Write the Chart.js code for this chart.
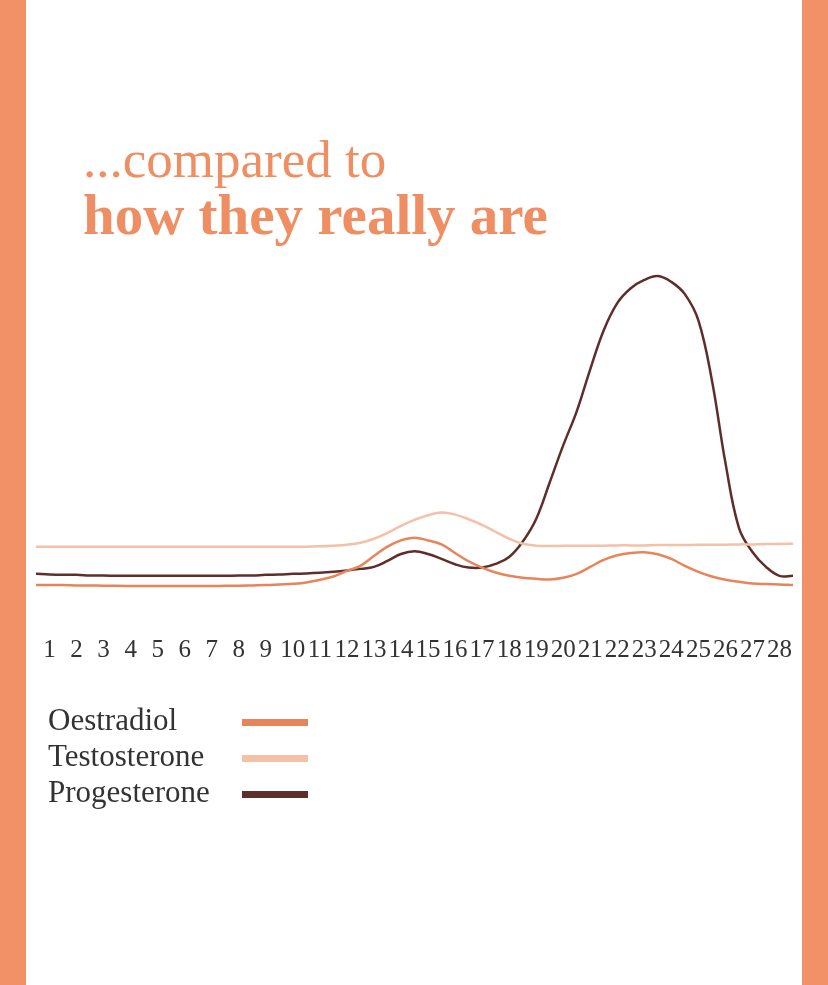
<!DOCTYPE html>
<html>
<head>
<meta charset="utf-8">
<script src="https://cdn.jsdelivr.net/npm/chart.js@4.4.1/dist/chart.umd.min.js"></script>
<style>
  html, body { margin: 0; padding: 0; background: #ffffff; }
  #page { position: relative; width: 828px; height: 985px; overflow: hidden; background: #ffffff; }
  .bar { position: absolute; top: 0; width: 26px; height: 985px; background: #F29068; }
  #chart { position: absolute; left: 0; top: 0; }
  .t1 { position: absolute; left: 83px; top: 133px; font-family: "Liberation Serif", serif; font-size: 53px; line-height: 53px; color: #EF8E63; white-space: nowrap; }
  .t2 { position: absolute; left: 83px; top: 186px; font-family: "Liberation Serif", serif; font-weight: bold; font-size: 57px; line-height: 57px; color: #EF8E63; white-space: nowrap; }
  #legend { position: absolute; left: 48px; top: 701.5px; }
  .row { display: flex; align-items: flex-start; height: 36px; }
  .lbl { width: 194px; font-family: "Liberation Serif", serif; font-size: 31px; line-height: 36px; color: #333333; white-space: nowrap; }
  .sw { width: 66px; height: 7px; margin-top: 17.5px; }
</style>
</head>
<body>
<div id="page">
  <canvas id="chart" width="828" height="985"></canvas>
  <div class="bar" style="left:0"></div>
  <div class="bar" style="left:802px"></div>
  <div class="t1">...compared to</div>
  <div class="t2">how they really are</div>
  <div id="legend"></div>
</div>
<script>
// x positions (cycle day) of the sampled points
const days = [0.5, 1, 1.5, 2, 2.5, 3, 3.5, 4, 4.5, 5, 5.5, 6, 6.5, 7, 7.5, 8, 8.5, 9, 9.5, 10,
  10.5, 11, 11.5, 12, 12.5, 13, 13.5, 14, 14.5, 15, 15.5, 16, 16.5, 17, 17.5, 18, 18.5, 19, 19.5, 20,
  20.5, 21, 21.5, 22, 22.5, 23, 23.5, 24, 24.5, 25, 25.5, 26, 26.5, 27, 27.5, 28, 28.5];

// tick labels
const dayLabels = ['1','2','3','4','5','6','7','8','9','10','11','12','13','14',
  '15','16','17','18','19','20','21','22','23','24','25','26','27','28'];

const seriesNames = ['Oestradiol', 'Testosterone', 'Progesterone'];

// relative hormone levels (arbitrary units)
const oestradiol = [4.2, 4.2, 4.2, 4.1, 4.1, 4.0, 4.0, 3.9, 3.9, 3.9, 3.9, 3.9, 3.9, 3.9, 4.0, 4.0, 4.1, 4.2, 4.4, 4.6,
  5.0, 5.8, 6.8, 8.5, 10.0, 13.0, 15.8, 17.7, 18.5, 17.7, 16.5, 13.9, 11.4, 9.5, 8.0, 7.0, 6.4, 6.1, 5.9, 6.4,
  7.6, 9.7, 11.8, 13.2, 13.9, 14.1, 13.5, 12.1, 10.0, 8.2, 6.8, 5.8, 5.2, 4.7, 4.5, 4.4, 4.2];

const testosterone = [15.8, 15.8, 15.8, 15.8, 15.8, 15.8, 15.8, 15.8, 15.8, 15.8, 15.8, 15.8, 15.8, 15.8, 15.8, 15.8, 15.8, 15.8, 15.8, 15.8,
  15.8, 15.9, 16.1, 16.4, 17.0, 18.2, 20.0, 22.1, 23.9, 25.3, 26.1, 25.5, 24.1, 22.4, 20.3, 18.2, 16.7, 16.1, 16.0, 16.1,
  16.1, 16.1, 16.1, 16.2, 16.2, 16.2, 16.3, 16.3, 16.3, 16.4, 16.4, 16.4, 16.5, 16.5, 16.6, 16.6, 16.7];

const progesterone = [7.6, 7.4, 7.3, 7.3, 7.1, 7.1, 7.0, 7.0, 7.0, 7.0, 7.0, 7.0, 7.0, 7.0, 7.0, 7.1, 7.1, 7.3, 7.4, 7.6,
  7.7, 7.9, 8.2, 8.6, 9.1, 9.7, 11.5, 13.6, 14.4, 13.6, 12.1, 10.5, 9.5, 9.5, 10.6, 12.7, 17.3, 24.2, 35.2, 46.4,
  56.7, 69.4, 81.2, 89.4, 93.9, 96.4, 97.6, 95.8, 92.1, 84.2, 66.1, 41.2, 21.5, 14.2, 9.7, 7.0, 7.0];

const colors = ['#E8845A', '#F4C0A8', '#5F2E2B'];

function pts(vals) { return days.map((d, i) => ({ x: d, y: vals[i] })); }

const datasets = [oestradiol, testosterone, progesterone].map((vals, i) => ({
  label: seriesNames[i],
  data: pts(vals),
  borderColor: colors[i],
  backgroundColor: colors[i],
  borderWidth: 2.5,
  pointRadius: 0,
  fill: false,
  tension: 0.4
}));

const chart = new Chart(document.getElementById('chart'), {
  type: 'line',
  data: { datasets },
  options: {
    responsive: false,
    animation: false,
    events: [],
    layout: { padding: { left: 36, right: 35, top: 268, bottom: 292 } },
    scales: {
      x: {
        type: 'linear',
        min: 0.5,
        max: 28.5,
        grid: { display: false },
        border: { display: false },
        afterBuildTicks: (scale) => { scale.ticks = dayLabels.map((_, i) => ({ value: i + 1 })); },
        ticks: {
          autoSkip: false,
          maxRotation: 0,
          minRotation: 0,
          padding: 28,
          color: '#333333',
          font: { family: 'Liberation Serif', size: 25 },
          callback: (value, index) => dayLabels[index]
        }
      },
      y: { display: false, min: 0, max: 100 }
    },
    plugins: {
      legend: { display: false },
      tooltip: { enabled: false }
    }
  }
});

// HTML legend built from the chart's own legend items
const legendEl = document.getElementById('legend');
chart.options.plugins.legend.labels.generateLabels(chart).forEach(item => {
  const row = document.createElement('div');
  row.className = 'row';
  const lbl = document.createElement('div');
  lbl.className = 'lbl';
  lbl.textContent = item.text;
  const sw = document.createElement('div');
  sw.className = 'sw';
  sw.style.background = item.strokeStyle;
  row.appendChild(lbl);
  row.appendChild(sw);
  legendEl.appendChild(row);
});
</script>
</body>
</html>
